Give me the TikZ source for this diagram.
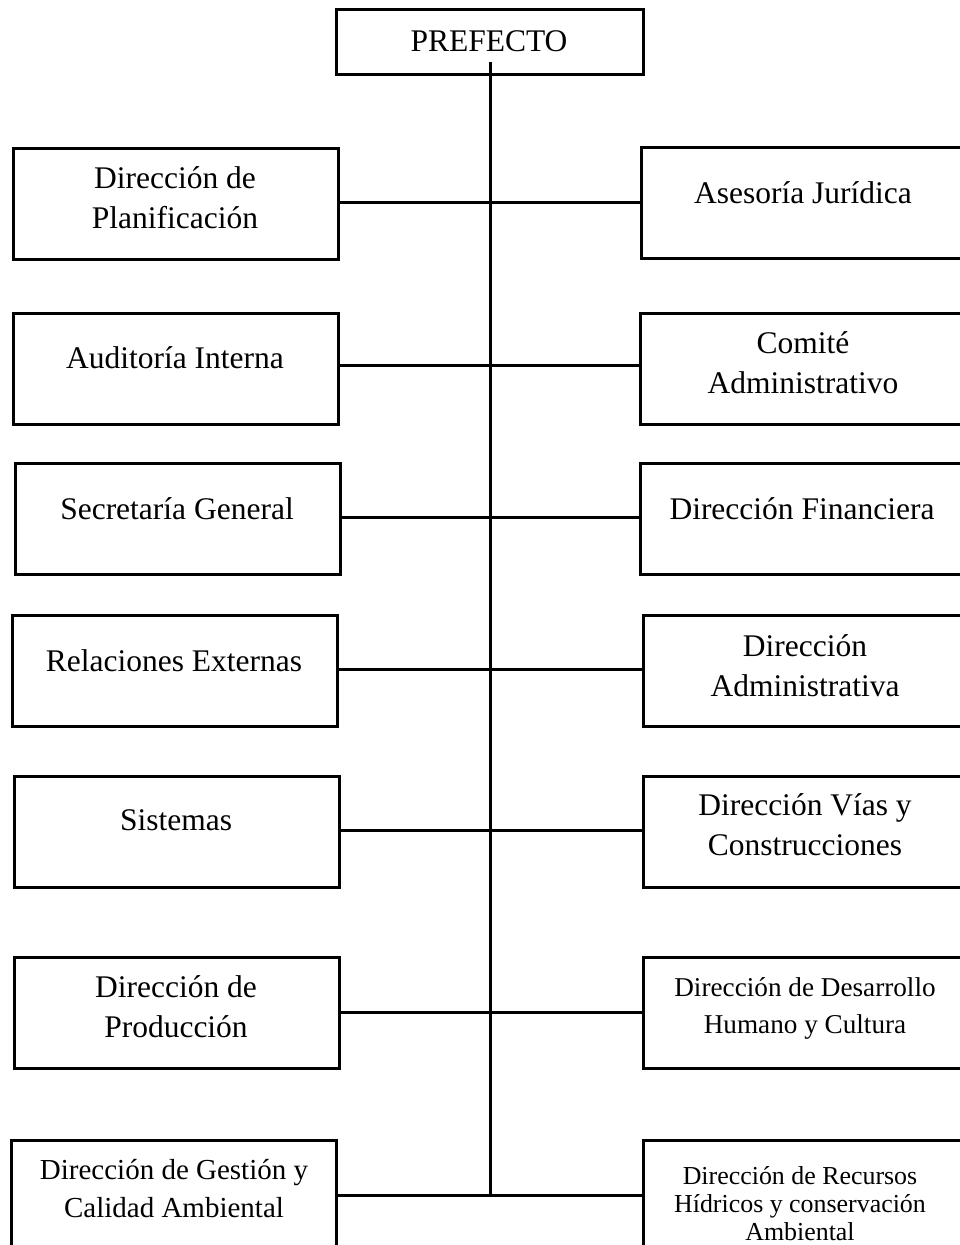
\documentclass[tikz,border=0pt]{standalone}
\usepackage{fontspec}
\setmainfont{Liberation Serif}
\begin{document}
\begin{tikzpicture}[x=1pt,y=-1pt,
  box/.style={draw=black, line width=3pt, rectangle, inner sep=0pt, minimum width=325pt, minimum height=111pt},
  topbox/.style={draw=black, line width=3pt, rectangle, inner sep=0pt, minimum width=307pt, minimum height=65pt},
  txt/.style={anchor=base, inner sep=0pt, font=\fontsize{31.5}{38}\selectfont},
  txtm/.style={anchor=base, inner sep=0pt, font=\fontsize{29}{35}\selectfont},
  txts/.style={anchor=base, inner sep=0pt, font=\fontsize{27.2}{33}\selectfont},
  txtxs/.style={anchor=base, inner sep=0pt, font=\fontsize{25.9}{30}\selectfont},
  conn/.style={draw=black, line width=3pt}]
\useasboundingbox (0,0) rectangle (960,1245);
\clip (0,0) rectangle (960,1245);
\fill[white] (0,0) rectangle (960,1245);

% top box
\node[topbox] (P) at (489.5,41.5) {};
\node[txt] (tP) at (489,51) {PREFECTO};

% left boxes
\node[box] (L1) at (175.5,203.5) {};
\node[box] (L2) at (175.5,368.5) {};
\node[box] (L3) at (177.5,519) {};
\node[box] (L4) at (174.5,671) {};
\node[box] (L5) at (176.5,831.5) {};
\node[box] (L6) at (176.5,1013) {};
\node[box] (L7) at (174,1195.5) {};

% right boxes
\node[box] (R1) at (803.5,203) {};
\node[box] (R2) at (802.5,368.5) {};
\node[box] (R3) at (802.5,519) {};
\node[box] (R4) at (805.5,671) {};
\node[box] (R5) at (805.5,831.5) {};
\node[box] (R6) at (805.5,1013) {};
\node[box] (R7) at (805.5,1195.5) {};

% texts left
\node[txt] (tL1a) at (175,188) {Dirección de};
\node[txt] (tL1b) at (175,228) {Planificación};
\node[txt] (tL2) at (175,368) {Auditoría Interna};
\node[txt] (tL3) at (177,519) {Secretaría General};
\node[txt] (tL4) at (174,671) {Relaciones Externas};
\node[txt] (tL5) at (176,830) {Sistemas};
\node[txt] (tL6a) at (176,997) {Dirección de};
\node[txt] (tL6b) at (176,1037) {Producción};
\node[txtm] (tL7a) at (174,1179) {Dirección de Gestión y};
\node[txtm] (tL7b) at (174,1217) {Calidad Ambiental};

% texts right
\node[txt] (tR1) at (803,203) {Asesoría Jurídica};
\node[txt] (tR2a) at (803,353) {Comité};
\node[txt] (tR2b) at (803,393) {Administrativo};
\node[txt] (tR3) at (802,519) {Dirección Financiera};
\node[txt] (tR4a) at (805,656) {Dirección};
\node[txt] (tR4b) at (805,696) {Administrativa};
\node[txt] (tR5a) at (805,815) {Dirección Vías y};
\node[txt] (tR5b) at (805,855) {Construcciones};
\node[txts] (tR6a) at (805,996) {Dirección de Desarrollo};
\node[txts] (tR6b) at (805,1033) {Humano y Cultura};
\node[txtxs] (tR7a) at (800,1184) {Dirección de Recursos};
\node[txtxs] (tR7b) at (800,1212) {Hídricos y conservación};
\node[txtxs] (tR7c) at (800,1240) {Ambiental};

% trunk
\coordinate (trunkTop) at (490,62);
\coordinate (j1) at (490,202);
\coordinate (j2) at (490,365);
\coordinate (j3) at (490,517);
\coordinate (j4) at (490,669);
\coordinate (j5) at (490,830);
\coordinate (j6) at (490,1012);
\coordinate (j7) at (490,1195);
\draw[conn] (trunkTop) -- (j7);

\foreach \i in {1,...,7}{
  \draw[conn] (L\i.east |- j\i) -- (R\i.west |- j\i);
}
\end{tikzpicture}
\end{document}
